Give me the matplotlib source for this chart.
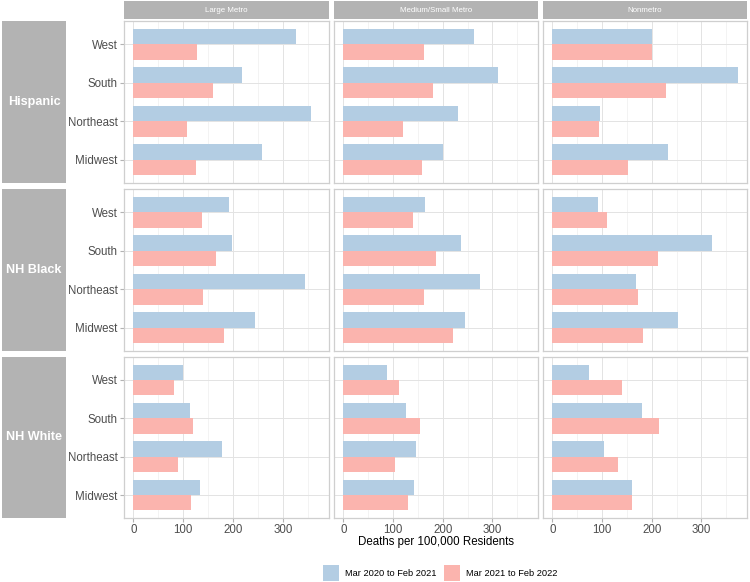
import matplotlib.pyplot as plt
import numpy as np
from matplotlib.patches import Patch

plt.rcParams['font.family'] = ['Liberation Sans', 'DejaVu Sans']

# data (deaths per 100,000), regions listed top -> bottom
regions = ['West', 'South', 'Northeast', 'Midwest']
races = ['Hispanic', 'NH Black', 'NH White']
areas = ['Large Metro', 'Medium/Small Metro', 'Nonmetro']
periods = ['Mar 2020 to Feb 2021', 'Mar 2021 to Feb 2022']

# one inner list per area (Large, Medium/Small, Nonmetro)
hispanic_p1 = [[325, 217, 356, 257], [262, 311, 231, 200], [201, 373, 96, 232]]
hispanic_p2 = [[128, 160, 108, 126], [163, 181, 121, 158], [200, 229, 93, 153]]
black_p1 = [[192, 198, 343, 244], [165, 237, 275, 245], [92, 322, 169, 253]]
black_p2 = [[137, 166, 140, 182], [140, 186, 162, 221], [110, 213, 173, 182]]
white_p1 = [[100, 113, 178, 134], [87, 127, 146, 142], [74, 181, 105, 160]]
white_p2 = [[81, 120, 89, 116], [112, 154, 104, 131], [141, 215, 132, 160]]

p1_vals = [hispanic_p1, black_p1, white_p1]
p2_vals = [hispanic_p2, black_p2, white_p2]

blue = '#B3CDE3'
pink = '#FBB4AE'
grey = '#B3B3B3'

W, H = 750, 582
fig = plt.figure(figsize=(7.5, 5.82), dpi=100)


def box(l, t, r, b):
    return [l / W, 1 - b / H, (r - l) / W, (b - t) / H]


cols = [(124, 329), (334, 538), (543, 747)]
rows = [(21, 183), (189, 351), (357, 518)]

ypos = np.arange(len(regions))[::-1] + 1  # West on top
vmax = 373
xlim = (-0.05 * vmax, 1.05 * vmax)

for i, race in enumerate(races):
    for j, area in enumerate(areas):
        l, r = cols[j]
        t, b = rows[i]
        ax = fig.add_axes(box(l, t, r, b))
        ax.barh(ypos + 0.2, p1_vals[i][j], height=0.4, color=blue, zorder=2)
        ax.barh(ypos - 0.2, p2_vals[i][j], height=0.4, color=pink, zorder=2)
        ax.set_xlim(*xlim)
        ax.set_ylim(0.4, 4.6)
        ax.set_xticks([0, 100, 200, 300])
        ax.set_xticks([50, 150, 250, 350], minor=True)
        ax.set_yticks(ypos)
        ax.grid(which='major', color='#E3E3E3', linewidth=0.7, zorder=0)
        ax.grid(which='minor', axis='x', color='#EEEEEE', linewidth=0.5, zorder=0)
        ax.set_axisbelow(True)
        for s in ax.spines.values():
            s.set_color('#CFCFCF')
            s.set_linewidth(0.9)
        ax.tick_params(which='minor', length=0)
        ax.tick_params(which='major', color=grey, width=0.8, length=2.7,
                       labelcolor='#4D4D4D', labelsize=8.3)
        ax.tick_params(axis='x', pad=1.5)
        ax.tick_params(axis='y', pad=1.8)
        if j == 0:
            ax.set_yticklabels(regions)
        else:
            ax.tick_params(axis='y', length=0, labelleft=False)
        if i == len(races) - 1:
            ax.set_xticklabels(['0', '100', '200', '300'])
        else:
            ax.tick_params(axis='x', length=0, labelbottom=False)

# top strips
for j, area in enumerate(areas):
    l, r = cols[j]
    sax = fig.add_axes(box(l, 1, r, 19))
    sax.set_facecolor(grey)
    sax.set_xticks([])
    sax.set_yticks([])
    for s in sax.spines.values():
        s.set_visible(False)
    sax.text(0.5, 0.5, area, color='white', fontsize=5.7,
             ha='center', va='center', transform=sax.transAxes)

# left strips
for i, race in enumerate(races):
    t, b = rows[i]
    sax = fig.add_axes(box(2, t, 66, b))
    sax.set_facecolor(grey)
    sax.set_xticks([])
    sax.set_yticks([])
    for s in sax.spines.values():
        s.set_visible(False)
    sax.text(0.5, 0.5, race, color='white', fontsize=9.1, fontweight='bold',
             ha='center', va='center', transform=sax.transAxes)

fig.text(436 / W, 1 - 536 / H, 'Deaths per 100,000 Residents',
         fontsize=8.3, color='black', ha='center', va='top')

handles = [Patch(facecolor=blue, edgecolor='none'),
           Patch(facecolor=pink, edgecolor='none')]
fig.legend(handles, periods, loc='center', bbox_to_anchor=(440 / W, 1 - 573 / H),
           ncol=2, frameon=False, fontsize=6.7, handlelength=1.7,
           handleheight=2.4, handletextpad=0.65, columnspacing=0.85,
           borderpad=0, borderaxespad=0)

fig.savefig('out.png', dpi=100)
